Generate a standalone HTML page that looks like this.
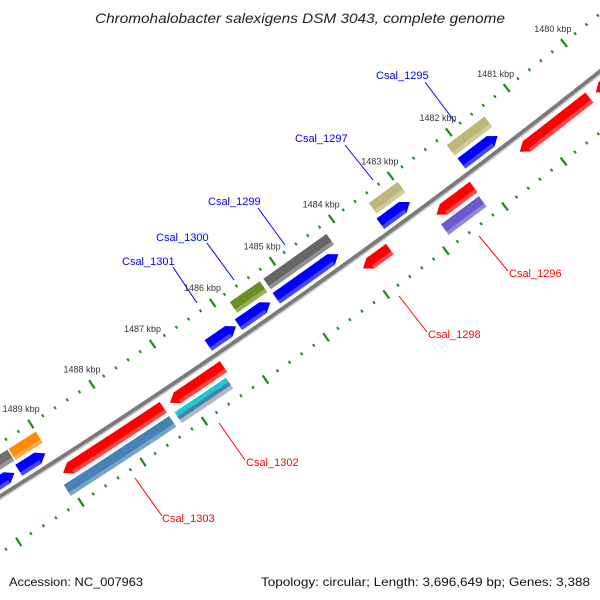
<!DOCTYPE html>
<html><head><meta charset="utf-8"><style>
html,body{margin:0;padding:0;background:#fff;}
svg{display:block;font-family:"Liberation Sans","DejaVu Sans",sans-serif;}
</style></head><body>
<svg id="map" width="600" height="600" viewBox="0 0 600 600" xmlns="http://www.w3.org/2000/svg">
<rect width="600" height="600" fill="#fff"/>
<g id="layer"></g>
<text x="300" y="23" text-anchor="middle" font-style="italic" font-size="14" fill="#222" textLength="410" lengthAdjust="spacingAndGlyphs">Chromohalobacter salexigens DSM 3043, complete genome</text>
<g font-size="11">
<line x1="425" y1="82" x2="455" y2="122" stroke="#0000ff" stroke-width="1"/>
<text x="376" y="79" fill="#0000ff">Csal_1295</text>
<line x1="345" y1="145" x2="373" y2="180" stroke="#0000ff" stroke-width="1"/>
<text x="295" y="142" fill="#0000ff">Csal_1297</text>
<line x1="258" y1="208" x2="285" y2="245" stroke="#0000ff" stroke-width="1"/>
<text x="208" y="205" fill="#0000ff">Csal_1299</text>
<line x1="207" y1="243" x2="234" y2="280" stroke="#0000ff" stroke-width="1"/>
<text x="156" y="241" fill="#0000ff">Csal_1300</text>
<line x1="173" y1="267" x2="197" y2="303" stroke="#0000ff" stroke-width="1"/>
<text x="122" y="265" fill="#0000ff">Csal_1301</text>
<line x1="479" y1="236" x2="508" y2="271" stroke="#ff0000" stroke-width="1"/>
<text x="509" y="277" fill="#ff0000">Csal_1296</text>
<line x1="399" y1="296" x2="427" y2="332" stroke="#ff0000" stroke-width="1"/>
<text x="428" y="338" fill="#ff0000">Csal_1298</text>
<line x1="219" y1="423" x2="245" y2="460" stroke="#ff0000" stroke-width="1"/>
<text x="246" y="466" fill="#ff0000">Csal_1302</text>
<line x1="135" y1="478" x2="162" y2="516" stroke="#ff0000" stroke-width="1"/>
<text x="162" y="522" fill="#ff0000">Csal_1303</text>
</g>
<text x="9" y="586" font-size="12" fill="#111" textLength="134" lengthAdjust="spacingAndGlyphs">Accession: NC_007963</text>
<text x="261" y="586" font-size="12" fill="#111" textLength="329" lengthAdjust="spacingAndGlyphs">Topology: circular; Length: 3,696,649 bp; Genes: 3,388</text>
</svg>
<script>
// data (kbp positions)
const tickStart = 1478.0;
const tickEnd = 1491.0;
const tickLabels = [1480,1481,1482,1483,1484,1485,1486,1487,1488,1489,1490];
const fwdCdsStart = [1481.50,1483.00,1484.21,1485.35,1485.92,1489.05,1489.55];
const fwdCdsEnd   = [1482.12,1483.50,1485.25,1485.88,1486.38,1489.48,1490.60];
const fwdCogStart = [1481.48,1482.97,1484.18,1485.30,1489.00,1489.46];
const fwdCogEnd   = [1482.13,1483.46,1485.24,1485.80,1489.44,1490.60];
const fwdCogColor = ["#bdb77a","#bdb77a","#666666","#6b8e23","#ff8c00","#707070"];
const revCdsStart = [1479.20,1480.19,1482.18,1483.60,1486.37,1487.36];
const revCdsEnd   = [1480.08,1481.39,1482.81,1484.05,1487.25,1488.99];
const revCogStart = [1482.20,1486.43,1487.36];
const revCogEnd   = [1482.84,1487.27,1489.07];
const revCogColor = ["#6a5acd","#20c8d0","#4682b4"];

const CX=-3525, CY=-5116, TH0=51.60, K=0.634;
function ang(k){return (TH0+K*(k-1480))*Math.PI/180;}
function pt(k,r){const a=ang(k);return [CX+r*Math.cos(a),CY+r*Math.sin(a)];}
const NS="http://www.w3.org/2000/svg";
const layer=document.getElementById('layer');
function mk(tag,attrs){const e=document.createElementNS(NS,tag);for(const a in attrs)e.setAttribute(a,attrs[a]);layer.appendChild(e);return e;}
function ptsStr(a){return a.map(p=>p[0].toFixed(2)+','+p[1].toFixed(2)).join(' ');}
function arcPts(s,e,r){const n=6,out=[];for(let i=0;i<=n;i++)out.push(pt(s+(e-s)*i/n,r));return out;}
function band(s,e,r0,r1){return arcPts(s,e,r0).concat(arcPts(e,s,r1));}

// backbone
(function(){
  const seg=[];for(let i=0;i<=40;i++)seg.push(pt(tickStart+(tickEnd-tickStart)*i/40,6628));
  const d='M'+seg.map(p=>p[0].toFixed(2)+' '+p[1].toFixed(2)).join(' L');
  let e=mk('path',{d:d,fill:'none',stroke:'#7a7a7a','stroke-width':5});
  
  
  const seg2=[];for(let i=0;i<=40;i++)seg2.push(pt(tickStart+(tickEnd-tickStart)*i/40,6630));
  e=mk('path',{d:'M'+seg2.map(p=>p[0].toFixed(2)+' '+p[1].toFixed(2)).join(' L'),fill:'none',stroke:'#c8c8c8','stroke-width':1.5});
  
  
})();

// rulers
function ruler(rMaj0,rMaj1,rMin0,rMin1,name){
  const n=Math.round((tickEnd-tickStart)/0.2);
  for(let i=0;i<=n;i++){
    const k=tickStart+i*0.2;
    const major=Math.abs(k-Math.round(k))<1e-6;
    const a=pt(k,major?rMaj0:rMin0), b=pt(k,major?rMaj1:rMin1);
    const l=mk('line',{x1:a[0],y1:a[1],x2:b[0],y2:b[1],stroke:'#1a8a1a','stroke-width':major?2.2:2});
    
    
  }
}
ruler(6578,6588,6581,6584,'outer-ruler');
ruler(6671,6681,6674,6677,'inner-ruler');
tickLabels.forEach(function(k){
  const p=pt(k,6565);
  const t=mk('text',{x:p[0],y:p[1]+3,'text-anchor':'middle','font-size':9,fill:'#333'});
  t.textContent=k+' kbp';
  
  
});

function shade(s,e,r0,r1){
  const p=mk('polygon',{points:ptsStr(band(s,e,r1-4,r1)),fill:'#ffffff','fill-opacity':0.28});
  
  
}
function arrowUp(s,e,r0,r1,color,name){ // head at start
  const h=Math.min(0.12,(e-s)*0.4), rm=(r0+r1)/2;
  const pts=arcPts(e,s+h,r0).concat([pt(s,rm)]).concat(arcPts(s+h,e,r1));
  const p=mk('polygon',{points:ptsStr(pts),fill:color});
  
  
  shade(s+h,e,r0,r1);
}
function arrowDown(s,e,r0,r1,color,name){ // head at end
  const h=Math.min(0.12,(e-s)*0.4), rm=(r0+r1)/2;
  const pts=arcPts(s,e-h,r0).concat([pt(e,rm)]).concat(arcPts(e-h,s,r1));
  const p=mk('polygon',{points:ptsStr(pts),fill:color});
  
  
  shade(s,e-h,r0,r1);
}
function box(s,e,r0,r1,color,name){
  const p=mk('polygon',{points:ptsStr(band(s,e,r0,r1)),fill:color});
  
  
  shade(s,e,r0,r1);
}
fwdCogStart.forEach((s,i)=>box(s,fwdCogEnd[i],6592,6605,fwdCogColor[i],'forward-cog-feature'));
fwdCdsStart.forEach((s,i)=>arrowUp(s,fwdCdsEnd[i],6609,6622,'#0000ff','forward-cds-feature'));
revCdsStart.forEach((s,i)=>arrowDown(s,revCdsEnd[i],6635,6648,'#ff0000','reverse-cds-feature'));
revCogStart.forEach((s,i)=>box(s,revCogEnd[i],6652,6665,revCogColor[i],'reverse-cog-feature'));
// overlapping categories on second Csal_1302 feature
(function(){
  let p=mk('polygon',{points:ptsStr(band(revCogStart[1],revCogEnd[1],6657,6661)),fill:'#4682b4'});
  
  
  p=mk('polygon',{points:ptsStr(band(revCogStart[1],revCogEnd[1],6661,6665)),fill:'#b8b8b8'});
  
  
})();
</script>
</body></html>
